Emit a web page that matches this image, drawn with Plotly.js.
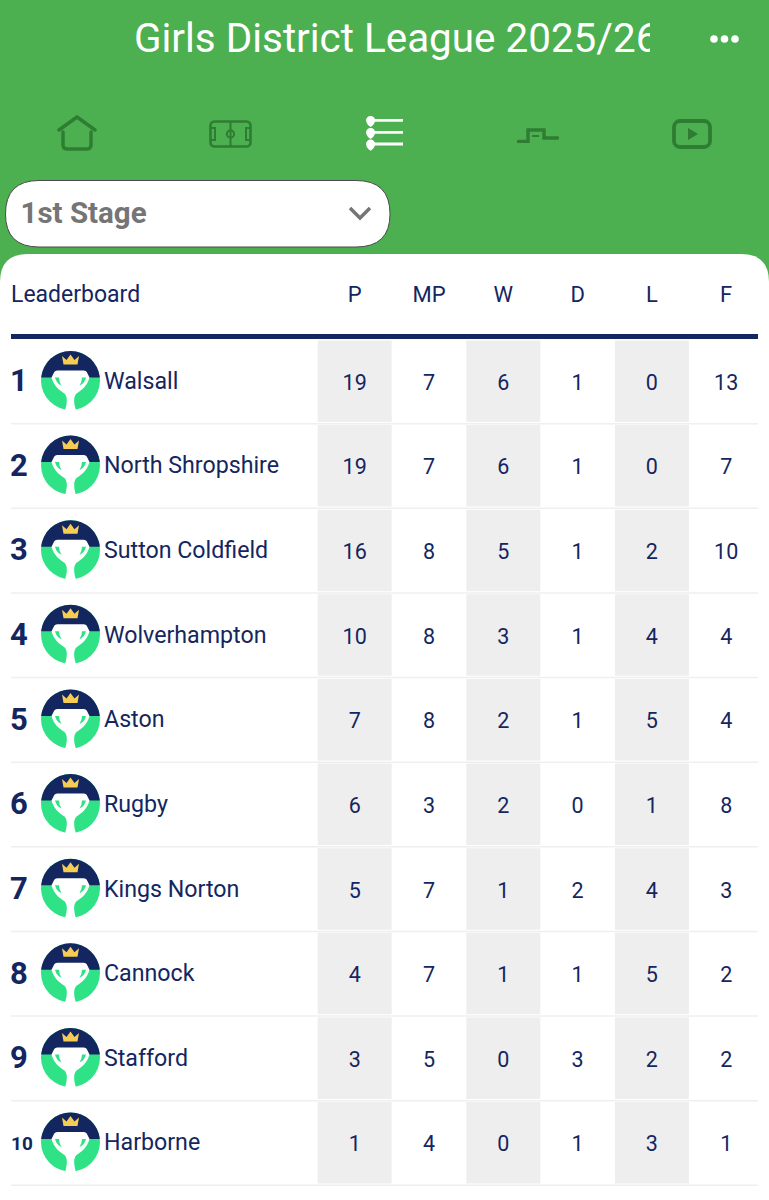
<!DOCTYPE html>
<html><head><meta charset="utf-8">
<script src="https://cdn.plot.ly/plotly-3.0.1.min.js"></script>
<style>html,body{margin:0;padding:0;background:#4caf50}#c{width:769px;height:1200px}</style>
</head><body><div id="c"></div>
<script>
const pageTitle = "Girls District League 2025/26";
const stageLabel = "1st Stage";
const boardLabel = "Leaderboard";
const columns = ["P","MP","W","D","L","F"];
const ranks = [1,2,3,4,5,6,7,8,9,10];
const teams = ["Walsall","North Shropshire","Sutton Coldfield","Wolverhampton","Aston","Rugby","Kings Norton","Cannock","Stafford","Harborne"];
const P  = [19,19,16,10,7,6,5,4,3,1];
const MP = [7,7,8,8,8,3,7,7,5,4];
const W  = [6,6,5,3,2,2,1,1,0,0];
const D  = [1,1,1,1,1,0,2,1,3,1];
const L  = [0,0,2,4,5,1,4,5,2,3];
const F  = [13,7,10,4,4,8,3,2,2,1];
const stats = [P,MP,W,D,L,F];

const navy="#14265f", rowH=84.62, firstRow=381.5, colStart=354.7, colStep=74.3, colW=74;
const rowY=i=>firstRow+rowH*i, colX=j=>colStart+colStep*j;
const font="Roboto, sans-serif";

const svg=(vb,body)=>"data:image/svg+xml;utf8,"+encodeURIComponent(`<svg xmlns="http://www.w3.org/2000/svg" viewBox="${vb}">${body}</svg>`);
const logo=svg("0 0 60 60",`<circle cx="30" cy="30" r="29.5" fill="#2ee285"/>
<path d="M.65 27A29.5 29.5 0 0 1 59.35 27Z" fill="#14265f"/>
<path d="M11 27 L13 23 Q14 20 17 20 L43 20 Q46 20 47 23 L49 27 C47 35 41 40 36 43 C33 46 33 52 35.5 60 L24.5 60 C27 52 27 46 24 43 C19 40 13 35 11 27 Z" fill="#fff"/>
<path d="M14.5 27 L18.5 27 Q18.5 31 21 35 Q16 33 14.5 27Z M45.5 27 L41.5 27 Q41.5 31 39 35 Q44 33 45.5 27Z" fill="#2ee285"/>
<path d="M21.5 5.5 L26 9.5 L30 4 L34 9.5 L38.5 5.5 L37 14 L23 14 Z" fill="#f6cd52"/>`);
const ic="#2e7d32";
const home=svg("0 0 40 36",`<path d="M2 15 L20 2 L38 15 M6 17 V30 Q6 34 10 34 H30 Q34 34 34 30 V17" fill="none" stroke="${ic}" stroke-width="3.4" stroke-linecap="round" stroke-linejoin="round"/>`);
const pitch=svg("0 0 43 28",`<rect x="1.5" y="1.5" width="40" height="25" rx="4" fill="none" stroke="${ic}" stroke-width="2.6"/><path d="M21.5 2V26M1.5 8H6V20H1.5M41.5 8H37V20H41.5" fill="none" stroke="${ic}" stroke-width="2"/><circle cx="21.5" cy="14" r="3.6" fill="none" stroke="${ic}" stroke-width="2"/>`);
const drop=y=>`M0 ${y} A4.6 4.6 0 0 1 9.2 ${y} Q8.5 ${y+4} 4.6 ${y+6.5} Q.7 ${y+4} 0 ${y}Z`;
const list=svg("0 0 37 35",`<path d="M8 4.3H37M8 16.3H37M8 28H37" stroke="#fff" stroke-width="2.8"/><path d="${drop(4.6)}${drop(16.6)}${drop(28.2)}" fill="#fff"/>`);
const steps=svg("0 0 42 15",`<path d="M1.5 13.5H11V2H27V10H40.5" fill="none" stroke="${ic}" stroke-width="3.4" stroke-linecap="round"/><path d="M15 8H22" stroke="${ic}" stroke-width="2"/>`);
const play=svg("0 0 40 30",`<rect x="2" y="2" width="36" height="26" rx="6" fill="none" stroke="${ic}" stroke-width="3.8"/><path d="M16 9 L26 15 L16 21Z" fill="${ic}"/>`);
const chevron=svg("0 0 24 15",`<path d="M2 2 L12 12 L22 2" fill="none" stroke="#757575" stroke-width="3.4"/>`);
const dots=svg("0 0 32 10",`<circle cx="5" cy="5" r="3.8" fill="#fff"/><circle cx="15.5" cy="5" r="3.8" fill="#fff"/><circle cx="26" cy="5" r="3.8" fill="#fff"/>`);
const img=(source,x,y,w,h)=>({source,xref:"x",yref:"y",x,y,sizex:w,sizey:h,xanchor:"left",yanchor:"top",sizing:"stretch",layer:"above"});

const shapes=[
 {type:"path",layer:"below",path:"M0 282 Q0 254 28 254 H741 Q769 254 769 282 V1200 H0 Z",fillcolor:"#fff",line:{width:0}},
 {type:"path",layer:"below",path:"M39 180.5 H356 Q390 180.5 390 214 Q390 247 356 247 H39 Q5.5 247 5.5 214 Q5.5 180.5 39 180.5 Z",fillcolor:"#fff",line:{color:"#4a4a4a",width:1}},
 {type:"rect",layer:"below",x0:11,x1:758,y0:334,y1:339,fillcolor:navy,line:{width:0}}
];
ranks.forEach((_,i)=>{
  [0,2,4].forEach(j=>shapes.push({type:"rect",layer:"below",x0:colX(j)-colW/2,x1:colX(j)+colW/2,y0:rowY(i)-41,y1:rowY(i)+40.5,fillcolor:"#eeeeee",line:{width:0}}));
  shapes.push({type:"rect",layer:"below",x0:11,x1:758,y0:rowY(i)+41.5,y1:rowY(i)+43,fillcolor:"#efefef",line:{width:0}});
});

const images=[img(home,57,115,40,36),img(pitch,209,120,43,28),img(list,366,116,37,35),img(steps,517,128,42,15),img(play,672,119,40,30),img(chevron,348,206,24,15),img(dots,709,34,32,10)];
ranks.forEach((_,i)=>images.push(img(logo,40.5,rowY(i)-31,60,60)));

const traces=[];
const T=(x,y,text,size,color,pos,extra)=>traces.push(Object.assign({type:"scatter",mode:"text",x,y,text,textposition:pos,hoverinfo:"skip",showlegend:false,xaxis:"x",yaxis:"y",textfont:Object.assign({family:font,size,color})},extra||{}));
T([0],[42],[pageTitle],40.4,"#ffffff","middle right",{xaxis:"x2",yaxis:"y2",cliponaxis:true});
T([20.5],[216],[stageLabel],29.5,"#757575","middle right",{textfont:{family:font,size:29.5,color:"#757575",weight:700}});
T([11],[296.5],[boardLabel],23,navy,"middle right");
T(columns.map((_,j)=>colX(j)),columns.map(()=>296.5),columns,22,navy,"middle center");
T(ranks.slice(0,9).map(()=>19),ranks.slice(0,9).map((_,i)=>rowY(i)+2),ranks.slice(0,9).map(String),31,navy,"middle center",{textfont:{family:font,size:31,color:navy,weight:700}});
T([22],[rowY(9)+2],[String(ranks[9])],19,navy,"middle center",{textfont:{family:font,size:19,color:navy,weight:700}});
T(teams.map(()=>104),teams.map((_,i)=>rowY(i)+1.5),teams,23.2,navy,"middle right");
stats.forEach((vals,j)=>T(vals.map(()=>colX(j)),vals.map((_,i)=>rowY(i)+3),vals.map(String),21.5,navy,"middle center"));

const hidden={visible:false,fixedrange:true};
Plotly.newPlot("c",traces,{
  width:769,height:1200,margin:{l:0,r:0,t:0,b:0},
  paper_bgcolor:"#4caf50",plot_bgcolor:"rgba(0,0,0,0)",showlegend:false,
  xaxis:Object.assign({range:[0,769],domain:[0,1]},hidden),
  yaxis:Object.assign({range:[1200,0],domain:[0,1]},hidden),
  xaxis2:Object.assign({range:[0,516],domain:[134/769,650/769],anchor:"y2"},hidden),
  yaxis2:Object.assign({range:[75,0],domain:[1-75/1200,1],anchor:"x2"},hidden),
  shapes,images
},{displayModeBar:false,staticPlot:true});
</script></body></html>
